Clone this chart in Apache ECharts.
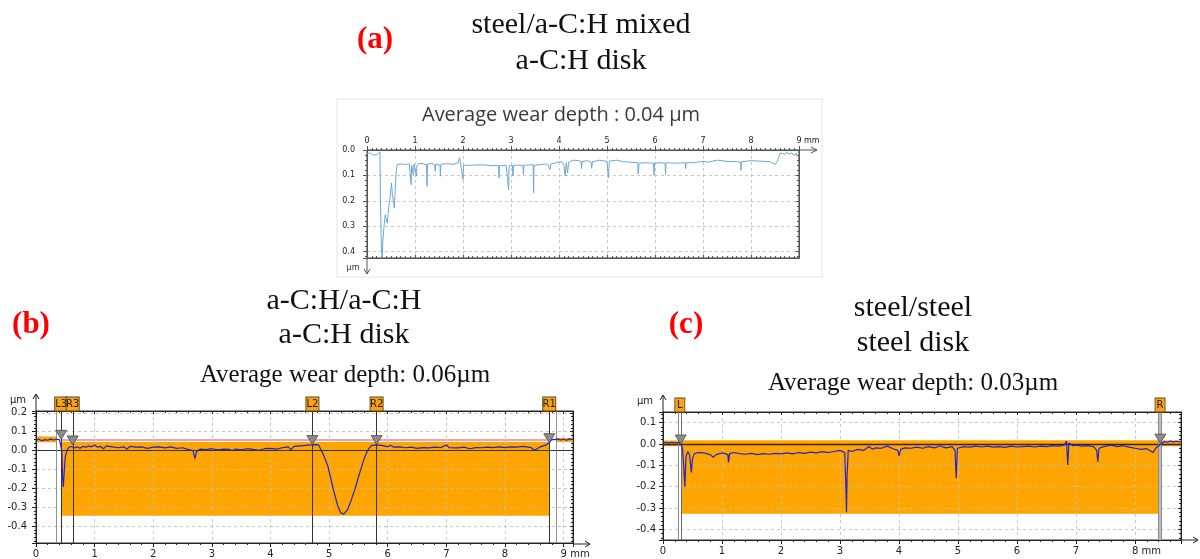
<!DOCTYPE html>
<html><head><meta charset="utf-8">
<script src="https://cdn.jsdelivr.net/npm/echarts@6/dist/echarts.min.js"></script>
<style>html,body{margin:0;padding:0;background:#fff}#c{width:1200px;height:559px}</style>
</head><body><div id="c"></div>
<script>
// ---------------- DATA ----------------
// (a) steel/a-C:H mixed on a-C:H disk : [distance mm, depth µm (positive downward)]
const profileA = [[0,0.013],[0.04,0.018],[0.08,0.012],[0.12,0.02],[0.16,0.014],[0.2,0.019],[0.24,0.012],[0.27,0.008],[0.28,0.2],[0.3,0.38],[0.315,0.425],[0.33,0.36],[0.35,0.31],[0.37,0.27],[0.38,0.255],[0.4,0.27],[0.42,0.288],[0.44,0.25],[0.45,0.228],[0.48,0.19],[0.51,0.13],[0.53,0.176],[0.55,0.2],[0.57,0.228],[0.59,0.15],[0.61,0.08],[0.63,0.057],[0.7,0.055],[0.8,0.057],[0.88,0.054],[0.91,0.06],[0.92,0.136],[0.93,0.06],[0.96,0.055],[0.97,0.1],[0.98,0.056],[1.02,0.058],[1.03,0.103],[1.04,0.06],[1.1,0.052],[1.18,0.055],[1.24,0.058],[1.25,0.143],[1.26,0.056],[1.35,0.052],[1.41,0.06],[1.42,0.083],[1.43,0.055],[1.52,0.06],[1.53,0.103],[1.54,0.056],[1.65,0.054],[1.8,0.056],[1.9,0.05],[1.93,0.03],[1.95,0.055],[1.99,0.06],[2.0,0.116],[2.01,0.06],[2.2,0.06],[2.4,0.058],[2.6,0.062],[2.74,0.06],[2.75,0.11],[2.76,0.062],[2.9,0.06],[2.94,0.065],[2.95,0.156],[2.96,0.062],[3.03,0.062],[3.04,0.103],[3.05,0.06],[3.2,0.06],[3.25,0.062],[3.26,0.096],[3.27,0.06],[3.46,0.058],[3.47,0.169],[3.48,0.06],[3.6,0.058],[3.72,0.055],[3.78,0.06],[3.81,0.077],[3.83,0.055],[3.95,0.05],[4.05,0.045],[4.1,0.06],[4.13,0.103],[4.15,0.05],[4.18,0.09],[4.2,0.048],[4.3,0.04],[4.4,0.042],[4.46,0.045],[4.47,0.073],[4.48,0.045],[4.6,0.042],[4.67,0.048],[4.68,0.072],[4.7,0.046],[4.85,0.04],[5.0,0.045],[5.03,0.11],[5.05,0.044],[5.2,0.04],[5.35,0.046],[5.5,0.048],[5.64,0.05],[5.65,0.094],[5.67,0.052],[5.8,0.05],[5.97,0.052],[5.98,0.1],[5.99,0.052],[6.1,0.05],[6.21,0.052],[6.22,0.096],[6.23,0.05],[6.4,0.052],[6.63,0.05],[6.64,0.073],[6.65,0.05],[6.8,0.05],[7.0,0.045],[7.1,0.048],[7.3,0.04],[7.5,0.045],[7.7,0.046],[7.78,0.048],[7.79,0.08],[7.8,0.046],[8.0,0.042],[8.2,0.044],[8.4,0.046],[8.5,0.057],[8.55,0.045],[8.6,0.015],[8.65,0.012],[8.7,0.018],[8.75,0.01],[8.8,0.016],[8.85,0.012],[8.9,0.02],[8.95,0.014],[8.96,0.025],[9.0,0.016]];

// (b) a-C:H/a-C:H on a-C:H disk : [distance mm, height µm]
const profileB = [[0,0.055],[0.05,0.06],[0.1,0.052],[0.15,0.058],[0.2,0.055],[0.25,0.062],[0.3,0.056],[0.35,0.06],[0.4,0.058],[0.43,0.06],[0.44,0.0],[0.455,-0.15],[0.466,-0.193],[0.48,-0.12],[0.5,-0.03],[0.53,0.0],[0.56,0.018],[0.6,0.022],[0.65,0.015],[0.7,0.02],[0.75,0.012],[0.8,0.022],[0.85,0.018],[0.9,0.025],[0.95,0.02],[1.0,0.03],[1.05,0.018],[1.1,0.022],[1.15,0.01],[1.2,0.025],[1.3,0.02],[1.4,0.015],[1.5,0.02],[1.55,0.008],[1.6,0.022],[1.7,0.018],[1.8,0.02],[1.9,0.012],[2.0,0.018],[2.1,0.02],[2.2,0.014],[2.3,0.02],[2.4,0.012],[2.5,0.015],[2.6,0.005],[2.68,0.0],[2.71,-0.042],[2.74,-0.005],[2.8,0.008],[2.9,0.005],[3.0,0.01],[3.1,0.004],[3.2,0.008],[3.3,0.006],[3.35,0.0],[3.4,0.008],[3.5,0.004],[3.6,0.01],[3.7,0.006],[3.8,0.002],[3.9,0.01],[4.0,0.012],[4.1,0.008],[4.2,0.015],[4.3,0.02],[4.35,0.005],[4.4,0.022],[4.5,0.025],[4.6,0.028],[4.7,0.03],[4.78,0.032],[4.82,0.03],[4.9,-0.02],[4.98,-0.083],[5.07,-0.205],[5.15,-0.296],[5.2,-0.33],[5.25,-0.337],[5.32,-0.31],[5.38,-0.26],[5.44,-0.205],[5.5,-0.14],[5.55,-0.09],[5.6,-0.04],[5.64,-0.011],[5.68,0.012],[5.72,0.026],[5.8,0.03],[5.9,0.028],[6.0,0.02],[6.05,0.028],[6.1,0.018],[6.2,0.02],[6.3,0.015],[6.4,0.018],[6.5,0.012],[6.6,0.016],[6.7,0.014],[6.8,0.018],[6.9,0.016],[7.0,0.03],[7.05,0.016],[7.2,0.014],[7.3,0.018],[7.4,0.01],[7.5,0.016],[7.6,0.015],[7.7,0.018],[7.8,0.016],[7.9,0.02],[8.0,0.016],[8.1,0.02],[8.2,0.018],[8.3,0.022],[8.4,0.018],[8.45,0.015],[8.5,0.002],[8.55,0.01],[8.6,0.02],[8.65,0.025],[8.7,0.03],[8.75,0.04],[8.8,0.06],[8.85,0.058],[8.9,0.062],[8.95,0.056],[9.0,0.06],[9.05,0.055],[9.1,0.062],[9.16,0.058]];

// (c) steel/steel on steel disk : [distance mm, height µm]
const profileC = [[0,0.005],[0.05,0.008],[0.1,0.004],[0.15,0.008],[0.2,0.005],[0.25,0.007],[0.3,0.002],[0.33,-0.02],[0.35,-0.1],[0.37,-0.2],[0.39,-0.06],[0.42,-0.035],[0.45,-0.05],[0.48,-0.133],[0.5,-0.07],[0.53,-0.045],[0.6,-0.04],[0.7,-0.042],[0.8,-0.05],[0.85,-0.062],[0.9,-0.05],[1.0,-0.042],[1.05,-0.045],[1.1,-0.05],[1.11,-0.086],[1.13,-0.045],[1.2,-0.04],[1.3,-0.045],[1.4,-0.048],[1.5,-0.044],[1.6,-0.05],[1.7,-0.045],[1.8,-0.048],[1.9,-0.044],[2.0,-0.046],[2.1,-0.042],[2.2,-0.046],[2.3,-0.04],[2.4,-0.044],[2.5,-0.038],[2.6,-0.042],[2.7,-0.036],[2.8,-0.04],[2.9,-0.035],[3.0,-0.03],[3.08,-0.04],[3.1,-0.2],[3.11,-0.32],[3.12,-0.15],[3.14,-0.03],[3.2,-0.035],[3.3,-0.025],[3.4,-0.03],[3.49,-0.012],[3.55,-0.025],[3.6,-0.018],[3.7,-0.02],[3.8,-0.01],[3.9,-0.022],[3.98,-0.03],[4.0,-0.056],[4.03,-0.025],[4.1,-0.018],[4.2,-0.02],[4.3,-0.015],[4.4,-0.02],[4.5,-0.012],[4.6,-0.018],[4.7,-0.008],[4.75,-0.015],[4.8,-0.018],[4.9,-0.012],[4.95,-0.03],[4.97,-0.16],[4.99,-0.02],[5.1,-0.012],[5.2,-0.015],[5.3,-0.01],[5.4,-0.014],[5.5,-0.01],[5.6,-0.015],[5.7,-0.012],[5.8,-0.016],[5.9,-0.01],[6.0,-0.014],[6.1,-0.012],[6.2,-0.01],[6.3,-0.014],[6.4,-0.01],[6.5,-0.012],[6.6,-0.008],[6.7,-0.01],[6.8,-0.005],[6.84,0.014],[6.86,-0.098],[6.88,0.005],[6.95,-0.008],[7.0,-0.005],[7.1,-0.01],[7.2,-0.008],[7.3,-0.012],[7.35,-0.03],[7.37,-0.083],[7.39,-0.02],[7.5,-0.01],[7.6,-0.005],[7.7,-0.012],[7.8,-0.008],[7.9,-0.015],[8.0,-0.02],[8.1,-0.025],[8.2,-0.022],[8.25,-0.03],[8.31,-0.04],[8.35,-0.02],[8.43,-0.002],[8.5,0.012],[8.55,0.008],[8.6,0.014],[8.65,0.01],[8.7,0.013],[8.78,0.01]];

// cursors (name, position mm, profile height µm)
const cursorNamesB = ['L3','R3','L2','R2','R1'];
const cursorXB = [0.43, 0.626, 4.715, 5.81, 8.755];
const cursorYB = [0.06, 0.03, 0.032, 0.032, 0.042];
const cursorNamesC = ['L','R'];
const cursorXC = [0.3, 8.43];
const cursorYC = [0.0, 0.004];
const tagXC = [0.285, 8.425];

// wear evaluation regions [x0, x1, yTop, yBottom]
const wearBoxB = [0.43, 8.755, 0.045, -0.345];
const refBandsB = [[0, 0.353, 0.075, 0.044], [8.87, 9.16, 0.067, 0.046]];
const refLineB = 0.057;
const refSideLinesB = [0.353, 8.87];
const wearBoxC = [0.31, 8.43, 0.016, -0.327];
const refBandC = [0, 8.78, 0.016, -0.01];
const sideLinesC = [0.26, 8.40, 8.45];

// axis ranges
const xRangeA = [0, 9], yRangeA = [0, 0.425];
const xRangeB = [0, 9.16], yRangeB = [-0.49, 0.21];
const xRangeC = [0, 8.78], yRangeC = [-0.45, 0.15];

// texts
const panelTags = ['(a)', '(b)', '(c)'];
const panelTitles = [['steel/a-C:H mixed', 'a-C:H disk'], ['a-C:H/a-C:H', 'a-C:H disk'], ['steel/steel', 'steel disk']];
const depthTexts = ['Average wear depth : 0.04 \u00b5m', 'Average wear depth: 0.06\u00b5m', 'Average wear depth: 0.03\u00b5m'];
const xUnit = 'mm', yUnit = '\u00b5m';

// ---------------- LAYOUT ----------------
const G = [
  {left: 367, top: 150, width: 432, height: 108},
  {left: 36, top: 411, width: 537, height: 133},
  {left: 663, top: 412, width: 518, height: 128}
];
const ORANGE = '#ffa500';
const GRIDC = 'rgba(190,190,190,0.85)';

function isInt(v) { return Math.abs(v - Math.round(v)) < 1e-6; }
function isTenth(v) { return Math.abs(v * 10 - Math.round(v * 10)) < 1e-6; }

function mainX(gi, r, pos, fs, col, unitAt, padW, minorN, margin) {
  return {
    gridIndex: gi, type: 'value', min: r[0], max: r[1], interval: 1, position: pos, z: 3,
    axisLine: {show: true, onZero: false, lineStyle: {color: col, width: 1}},
    axisTick: {show: true, length: 4, lineStyle: {color: col}},
    minorTick: {show: true, splitNumber: minorN, length: 2, lineStyle: {color: col}},
    splitLine: {show: true, lineStyle: {color: GRIDC, type: [3, 3], width: 1}},
    axisLabel: {
      fontFamily: 'DejaVu Sans', fontSize: fs, color: '#222', margin: margin,
      formatter: v => !isInt(v) ? '' : (Math.round(v) === unitAt ? '{p|}' + unitAt + '{u| ' + xUnit + '}' : String(Math.round(v))),
      rich: {p: {width: padW}, u: {fontSize: fs, fontFamily: 'DejaVu Sans', color: '#222'}}
    }
  };
}
function secX(gi, r, pos, col, minorN) {
  return {
    gridIndex: gi, type: 'value', min: r[0], max: r[1], interval: 1, position: pos, z: 3,
    axisLine: {show: true, onZero: false, lineStyle: {color: col}},
    axisTick: {show: true, inside: true, length: 3, lineStyle: {color: col}},
    minorTick: {show: true, splitNumber: minorN, length: 2, lineStyle: {color: col}},
    splitLine: {show: false}, axisLabel: {show: false}
  };
}
function mainY(gi, r, inv, split, fs, col, margin) {
  return {
    gridIndex: gi, type: 'value', min: r[0], max: r[1], splitNumber: split, inverse: inv, position: 'left', z: 3,
    axisLine: {show: true, onZero: false, lineStyle: {color: col}},
    axisTick: {show: true, length: 4, lineStyle: {color: col}},
    minorTick: {show: true, splitNumber: 5, length: 2, lineStyle: {color: col}},
    splitLine: {show: true, lineStyle: {color: GRIDC, type: [3, 3], width: 1}},
    axisLabel: {fontFamily: 'DejaVu Sans', fontSize: fs, color: '#222', margin: margin,
      formatter: v => isTenth(v) ? v.toFixed(1) : ''}
  };
}
function secY(gi, r, inv, split, col) {
  return {
    gridIndex: gi, type: 'value', min: r[0], max: r[1], splitNumber: split, inverse: inv, position: 'right', z: 3,
    axisLine: {show: true, onZero: false, lineStyle: {color: col}},
    axisTick: {show: true, inside: true, length: 3, lineStyle: {color: col}},
    minorTick: {show: true, splitNumber: 5, length: 2, lineStyle: {color: col}},
    splitLine: {show: false}, axisLabel: {show: false}
  };
}

const xAxes = [
  mainX(0, xRangeA, 'top', 8, '#555', 9, 18, 10, 5), secX(0, xRangeA, 'bottom', '#555', 10),
  mainX(1, xRangeB, 'bottom', 10, '#222', 9, 23, 5, 6), secX(1, xRangeB, 'top', '#222', 5),
  mainX(2, xRangeC, 'bottom', 10, '#222', 8, 23, 5, 6), secX(2, xRangeC, 'top', '#222', 5)
];
const yAxes = [
  mainY(0, yRangeA, true, 4, 8, '#555', 12), secY(0, yRangeA, true, 4, '#555'),
  mainY(1, yRangeB, false, 7, 10, '#222', 9), secY(1, yRangeB, false, 7, '#222'),
  mainY(2, yRangeC, false, 6, 10, '#222', 7), secY(2, yRangeC, false, 6, '#222')
];

function area(b, color) {
  return [{coord: [b[0], b[2]], itemStyle: {color: color, opacity: 1, borderWidth: 0}}, {coord: [b[1], b[3]]}];
}
function vline(x, color, w) { return {xAxis: x, lineStyle: {color: color, width: w, type: 'solid'}}; }
function hseg(x0, x1, y, color, w) {
  return [{coord: [x0, y], lineStyle: {color: color, width: w, type: 'solid'}}, {coord: [x1, y]}];
}
function triangles(xi, yi, xs, ys) {
  return {
    type: 'scatter', xAxisIndex: xi, yAxisIndex: yi, z: 8, clip: false, silent: true,
    symbol: 'triangle', symbolRotate: 180, symbolSize: [11, 9], symbolOffset: [0, -4.5],
    itemStyle: {color: '#8c8c8c', borderColor: '#4a4a4a', borderWidth: 0.8, opacity: 1},
    data: xs.map((x, i) => [x, ys[i]])
  };
}
function tags(xi, yi, names, xs, yTop, w) {
  return {
    type: 'scatter', xAxisIndex: xi, yAxisIndex: yi, z: 9, clip: false, silent: true,
    symbol: 'rect', symbolSize: [w, 14], symbolOffset: [0, -7],
    itemStyle: {color: '#f8a316', borderColor: '#6b4810', borderWidth: 1, opacity: 1},
    label: {show: true, position: 'inside', formatter: '{b}', fontFamily: 'DejaVu Sans', fontSize: 10, color: '#222'},
    data: names.map((n, i) => ({name: n, value: [xs[i], yTop]}))
  };
}

const series = [
  {type: 'line', xAxisIndex: 0, yAxisIndex: 0, data: profileA, symbol: 'none', z: 5, silent: true,
   lineStyle: {color: '#6ea6d6', width: 1}},
  {type: 'line', xAxisIndex: 2, yAxisIndex: 2, data: profileB, symbol: 'none', z: 5, silent: true,
   lineStyle: {color: '#2222d6', width: 1.2},
   markArea: {silent: true, z: 1, label: {show: false},
     data: [area(wearBoxB, ORANGE), area(refBandsB[0], ORANGE), area(refBandsB[1], ORANGE)]},
   markLine: {silent: true, z: 4, symbol: 'none', label: {show: false}, animation: false,
     data: [hseg(xRangeB[0], xRangeB[1], 0, '#333', 1), hseg(cursorXB[0], cursorXB[4], refLineB, '#ff8080', 1.5),
       vline(refSideLinesB[0], '#777', 0.8), vline(refSideLinesB[1], '#777', 0.8)]
       .concat(cursorXB.map(x => vline(x, '#333', 1)))}
  },
  triangles(2, 2, cursorXB, cursorYB),
  tags(2, 2, cursorNamesB, cursorXB, yRangeB[1], 13),
  {type: 'line', xAxisIndex: 4, yAxisIndex: 4, data: profileC, symbol: 'none', z: 5, silent: true,
   lineStyle: {color: '#2222d6', width: 1.2},
   markArea: {silent: true, z: 1, label: {show: false},
     data: [area(refBandC, ORANGE), area(wearBoxC, ORANGE),
       area([sideLinesC[1], sideLinesC[2], yRangeC[1], yRangeC[0]], '#bdbdbd')]},
   markLine: {silent: true, z: 4, symbol: 'none', label: {show: false}, animation: false,
     data: [hseg(xRangeC[0], xRangeC[1], 0, '#3a2414', 1.3),
       vline(sideLinesC[0], '#8a8a8a', 1), vline(wearBoxC[0], '#6a6a6a', 1),
       vline(sideLinesC[1], '#8a8a8a', 1), vline(sideLinesC[2], '#8a8a8a', 1)]}
  },
  triangles(4, 4, cursorXC, cursorYC),
  tags(4, 4, cursorNamesC, tagXC, yRangeC[1], 10)
];

// ---------------- DECORATION (text, frame, axis arrows) ----------------
const serif = '"Liberation Serif", "Times New Roman", serif';
function txt(s, x, y, font, fill) {
  return {type: 'text', x: x, y: y, silent: true, z: 20,
    style: {text: s, font: font, fill: fill || '#111', textAlign: 'center', textVerticalAlign: 'middle'}};
}
function poly(points, color) {
  return {type: 'polyline', silent: true, z: 20, shape: {points: points}, style: {stroke: color, lineWidth: 1, fill: null}};
}
const graphics = [
  {type: 'rect', silent: true, z: -1, shape: {x: 337, y: 99, width: 485, height: 178}, style: {fill: '#fff', stroke: '#e4e4e4', lineWidth: 1}},
  txt(panelTags[0], 375, 40, 'bold 31px ' + serif, '#ff0000'),
  txt(panelTags[1], 31, 325, 'bold 31px ' + serif, '#ff0000'),
  txt(panelTags[2], 686, 324.5, 'bold 31px ' + serif, '#ff0000'),
  txt(panelTitles[0][0], 581, 25, '30px ' + serif),
  txt(panelTitles[0][1], 581, 61.5, '30px ' + serif),
  txt(panelTitles[1][0], 344, 301.5, '30px ' + serif),
  txt(panelTitles[1][1], 344, 335, '30px ' + serif),
  txt(panelTitles[2][0], 913, 308, '30px ' + serif),
  txt(panelTitles[2][1], 913, 343, '30px ' + serif),
  txt(depthTexts[0], 561, 115.5, '20px "Open Sans", sans-serif', '#3a3a3a'),
  txt(depthTexts[1], 345, 375, '25px ' + serif),
  txt(depthTexts[2], 913, 383.5, '25px ' + serif),
  // (a) axis arrows + unit
  poly([[G[0].left + G[0].width, G[0].top], [G[0].left + G[0].width + 18, G[0].top]], '#555'),
  poly([[G[0].left + G[0].width + 12, G[0].top - 3], [G[0].left + G[0].width + 18, G[0].top], [G[0].left + G[0].width + 12, G[0].top + 3]], '#555'),
  poly([[G[0].left, G[0].top + G[0].height], [G[0].left, G[0].top + G[0].height + 16]], '#555'),
  poly([[G[0].left - 3, G[0].top + G[0].height + 11], [G[0].left, G[0].top + G[0].height + 16], [G[0].left + 3, G[0].top + G[0].height + 11]], '#555'),
  txt(yUnit, 353, 268, '8px "DejaVu Sans"', '#333'),
  // (b)
  poly([[G[1].left, G[1].top], [G[1].left, G[1].top - 17]], '#222'),
  poly([[G[1].left - 3, G[1].top - 12], [G[1].left, G[1].top - 17], [G[1].left + 3, G[1].top - 12]], '#222'),
  poly([[G[1].left + G[1].width, G[1].top + G[1].height], [G[1].left + G[1].width + 17, G[1].top + G[1].height]], '#222'),
  poly([[G[1].left + G[1].width + 12, G[1].top + G[1].height - 3], [G[1].left + G[1].width + 17, G[1].top + G[1].height], [G[1].left + G[1].width + 12, G[1].top + G[1].height + 3]], '#222'),
  txt(yUnit, 18, 400, '10px "DejaVu Sans"', '#222'),
  // (c)
  poly([[G[2].left, G[2].top], [G[2].left, G[2].top - 17]], '#222'),
  poly([[G[2].left - 3, G[2].top - 12], [G[2].left, G[2].top - 17], [G[2].left + 3, G[2].top - 12]], '#222'),
  poly([[G[2].left + G[2].width, G[2].top + G[2].height], [G[2].left + G[2].width + 17, G[2].top + G[2].height]], '#222'),
  poly([[G[2].left + G[2].width + 12, G[2].top + G[2].height - 3], [G[2].left + G[2].width + 17, G[2].top + G[2].height], [G[2].left + G[2].width + 12, G[2].top + G[2].height + 3]], '#222'),
  txt(yUnit, 645, 401, '10px "DejaVu Sans"', '#222')
];

const chart = echarts.init(document.getElementById('c'), null, {renderer: 'canvas'});
chart.setOption({
  animation: false,
  backgroundColor: '#fff',
  grid: G.map(g => Object.assign({show: true, borderColor: '#333', borderWidth: 1, backgroundColor: '#fff', containLabel: false}, g)),
  xAxis: xAxes,
  yAxis: yAxes,
  series: series,
  graphic: graphics
});
</script>
</body></html>
